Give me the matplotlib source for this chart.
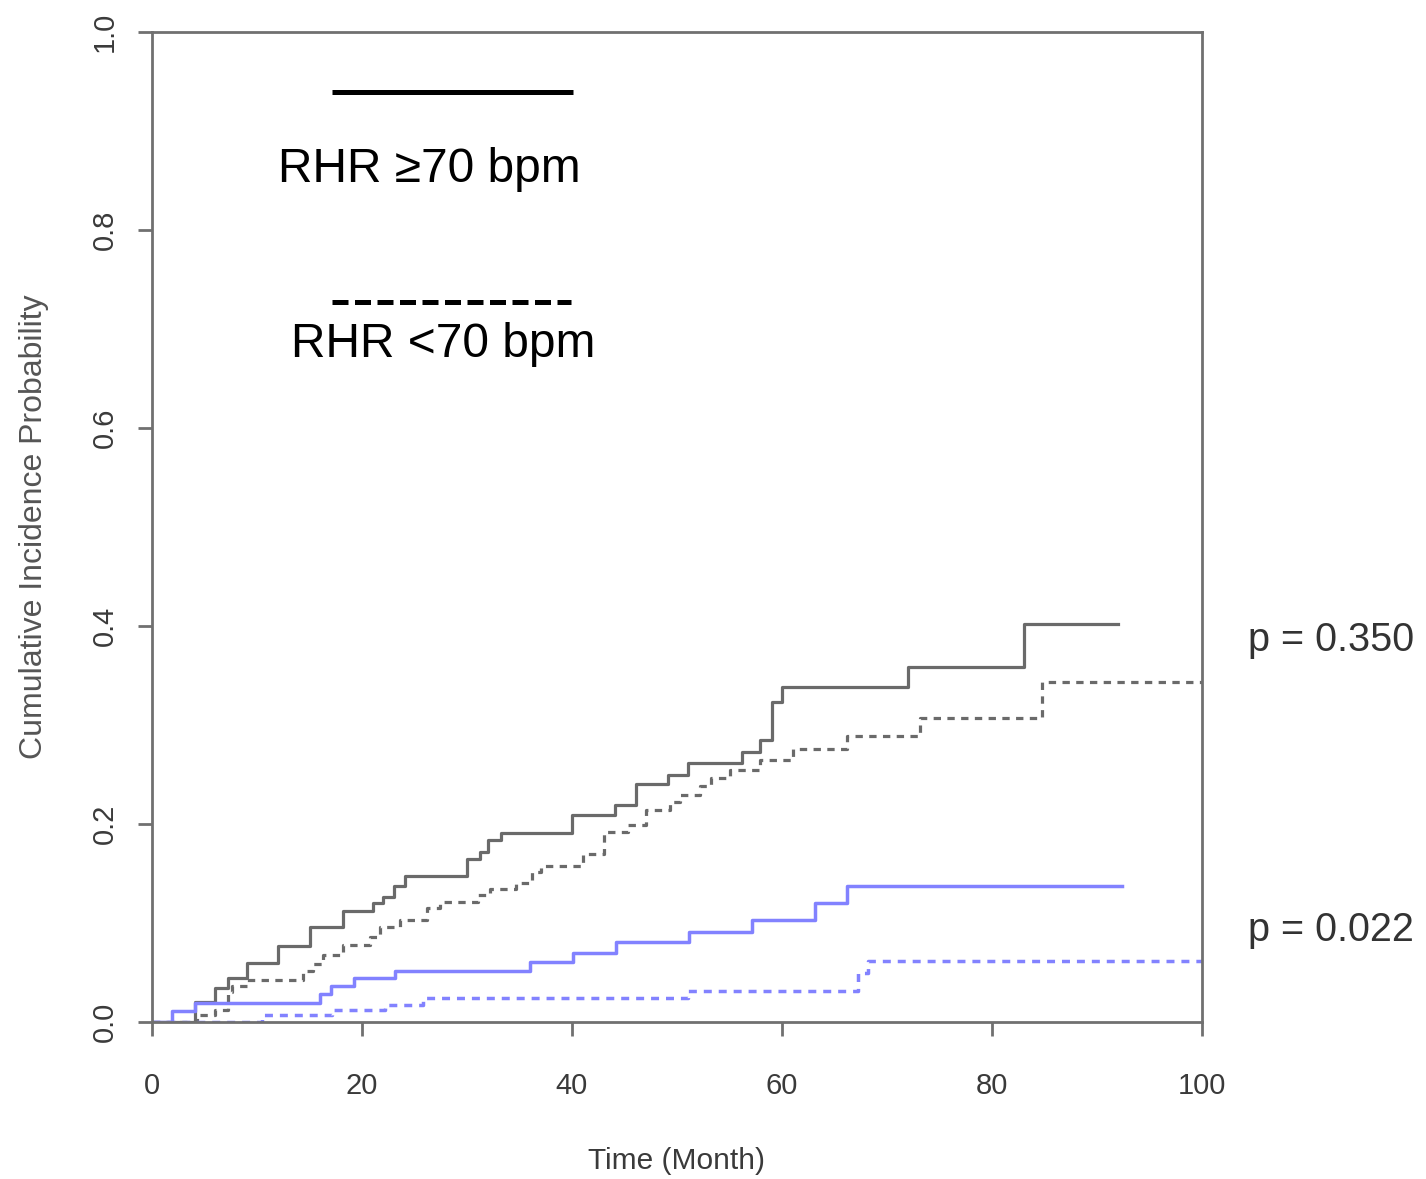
import matplotlib
matplotlib.use("Agg")
import matplotlib.pyplot as plt
from matplotlib.lines import Line2D

plt.rcParams['font.family'] = ['Liberation Sans', 'DejaVu Sans']

# ---- data ----
t_hi_1 = [0, 4.1, 6.0, 7.2, 9.0, 12.0, 15.0, 18.2, 21.0, 22.0, 23.0, 24.1, 30.0, 31.2, 32.0,
          33.2, 40.0, 44.1, 46.1, 49.1, 51.0, 56.2, 57.9, 59.0, 60.0, 72.0, 83.0, 92.0]
v_hi_1 = [0, 0.020, 0.034, 0.044, 0.060, 0.077, 0.096, 0.112, 0.120, 0.126, 0.137, 0.147, 0.165,
          0.172, 0.184, 0.191, 0.209, 0.219, 0.240, 0.250, 0.262, 0.273, 0.285, 0.323, 0.338,
          0.359, 0.402, 0.402]

t_lo_1 = [0, 4.3, 6.0, 7.2, 7.6, 9.0, 14.4, 15.3, 16.3, 18.2, 20.8, 21.7, 23.6, 26.2, 27.4, 31.0,
          32.2, 34.7, 36.2, 37.0, 41.0, 43.0, 45.3, 47.0, 49.3, 50.3, 52.2, 53.2, 55.0, 57.9,
          61.0, 66.2, 73.1, 84.8, 100]
v_lo_1 = [0, 0.007, 0.012, 0.030, 0.036, 0.042, 0.052, 0.059, 0.068, 0.078, 0.086, 0.096, 0.103,
          0.115, 0.121, 0.128, 0.134, 0.140, 0.152, 0.158, 0.170, 0.192, 0.199, 0.214, 0.222,
          0.229, 0.238, 0.246, 0.255, 0.265, 0.276, 0.289, 0.307, 0.343, 0.343]

t_hi_2 = [0, 1.9, 4.1, 16.0, 17.0, 19.2, 23.1, 36.0, 40.1, 44.2, 51.1, 57.1, 63.1, 66.2, 92.4]
v_hi_2 = [0, 0.011, 0.019, 0.028, 0.036, 0.044, 0.052, 0.061, 0.070, 0.081, 0.091, 0.103,
          0.120, 0.137, 0.137]

t_lo_2 = [0, 10.5, 17.1, 22.2, 25.8, 51.0, 67.2, 68.2, 100]
v_lo_2 = [0, 0.007, 0.012, 0.017, 0.024, 0.031, 0.049, 0.062, 0.062]

x_ticks = [0, 20, 40, 60, 80, 100]
y_ticks = [0.0, 0.2, 0.4, 0.6, 0.8, 1.0]
legend_labels = ["RHR \u226570 bpm", "RHR <70 bpm"]
p_labels = ["p = 0.350", "p = 0.022"]

# ---- figure ----
fig = plt.figure(figsize=(14.26, 11.79), dpi=100)
ax = fig.add_axes([152/1426, 1 - 1022/1179, 1050/1426, 990/1179])

gray = '#6a6a6a'
blue = '#8282ff'
dash = (0, (2.3, 2.0))

ax.step(t_hi_1, v_hi_1, where='post', color=gray, lw=2.3)
ax.step(t_lo_1, v_lo_1, where='post', color=gray, lw=2.3, linestyle=dash)
ax.step(t_hi_2, v_hi_2, where='post', color=blue, lw=2.5)
ax.step(t_lo_2, v_lo_2, where='post', color=blue, lw=2.5, linestyle=dash)

ax.set_xlim(0, 100)
ax.set_ylim(0, 1)
ax.set_xticks(x_ticks)
ax.set_xticklabels([str(v) for v in x_ticks])
ax.set_yticks(y_ticks)
ax.set_yticklabels([f"{v:.1f}" for v in y_ticks], rotation=90, va='center')

for s in ax.spines.values():
    s.set_color('#707070')
    s.set_linewidth(2.0)
ax.tick_params(axis='both', direction='out', length=10, width=2.0, color='#707070',
               labelsize=21, labelcolor='#3a3a3a')
ax.tick_params(axis='x', pad=26)
ax.tick_params(axis='y', pad=14)

ax.set_xlabel("Time (Month)", fontsize=21.5, color='#3a3a3a', labelpad=34)
ax.set_ylabel("Cumulative Incidence Probability", fontsize=23, color='#555555', labelpad=30)

# legend (custom layout: line above text)
ax.add_line(Line2D([0.171, 0.401], [0.939, 0.939], transform=ax.transAxes,
                   color='black', lw=3.6, solid_capstyle='butt'))
ax.add_line(Line2D([0.171, 0.399], [0.727, 0.727], transform=ax.transAxes,
                   color='black', lw=3.6, linestyle=(0, (3.2, 1.3)), dash_capstyle='butt'))
ax.text(0.264, 0.8616, legend_labels[0], transform=ax.transAxes, fontsize=34.5,
        ha='center', va='center', color='black')
ax.text(0.277, 0.684, legend_labels[1], transform=ax.transAxes, fontsize=34.5,
        ha='center', va='center', color='black')

# p-values
fig.text(1331/1426, 1 - 640/1179, p_labels[0], fontsize=28.5, ha='center', va='center',
         color='#333333')
fig.text(1331/1426, 1 - 930/1179, p_labels[1], fontsize=28.5, ha='center', va='center',
         color='#333333')

fig.savefig("out.png", dpi=100)
